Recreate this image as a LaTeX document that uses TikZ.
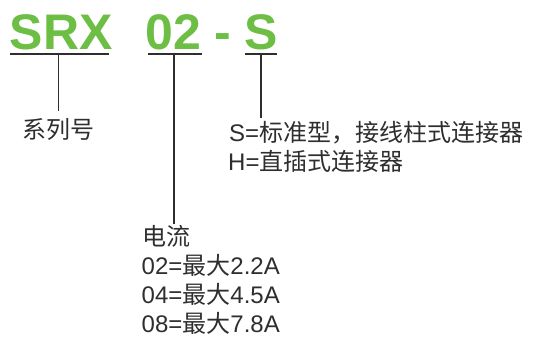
\documentclass[tikz,border=0pt]{standalone}
\usepackage{fontspec}
\setmainfont{Liberation Sans}
\newfontfamily\cjk{Noto Sans CJK SC}
\definecolor{grn}{HTML}{6DBE45}
\definecolor{ink}{HTML}{2E2E2E}
\begin{document}
\begin{tikzpicture}[x=1pt,y=-1pt,
  code/.style={font=\fontsize{50}{60}\selectfont\bfseries, text=grn, inner sep=0pt, anchor=base west},
  lbl/.style={font=\fontsize{24}{29}\selectfont, text=ink, inner sep=0pt, anchor=base west},
  ln/.style={draw=ink, line width=1.6pt}]
\useasboundingbox (0,0) rectangle (534,337);
% code letters
\node[code] (srx) at (9.5,49.3) {SRX};
\node[code] (num) at (145.5,49.3) {02};
\node[code] (dash) at (214.5,49.3) {-};
\node[code] (s) at (244.5,49.3) {S};
% underline coordinates
\coordinate (u1a) at (10,53.7);
\coordinate (u1b) at (108.5,53.7);
\coordinate (u2a) at (148,53.7);
\coordinate (u2b) at (202,53.7);
\coordinate (u3a) at (245,53.7);
\coordinate (u3b) at (277,53.7);
\coordinate (v1) at (58.3,53.7);
\coordinate (v2) at (174,53.7);
\coordinate (v3) at (260.7,53.7);
\coordinate (e1) at (58.3,111);
\coordinate (e2) at (174,223.5);
\coordinate (e3) at (260.7,118);
\draw[ln] (u1a) -- (u1b);
\draw[ln] (u2a) -- (u2b);
\draw[ln] (u3a) -- (u3b);
\draw[ln] (v1) -- (e1);
\draw[ln] (v2) -- (e2);
\draw[ln] (v3) -- (e3);
% labels
\node[lbl] (series) at (22,138) {\cjk 系列号};
\node[lbl] (typeS) at (229,141.7) {S={\cjk 标准型，接线柱式连接器}};
\node[lbl] (typeH) at (228,170.5) {H={\cjk 直插式连接器}};
\node[lbl] (cur) at (142,245) {\cjk 电流};
\node[lbl] (c02) at (141.5,274.5) {02={\cjk 最大}2.2A};
\node[lbl] (c04) at (141.5,303.5) {04={\cjk 最大}4.5A};
\node[lbl] (c08) at (141.5,332) {08={\cjk 最大}7.8A};
\end{tikzpicture}
\end{document}
